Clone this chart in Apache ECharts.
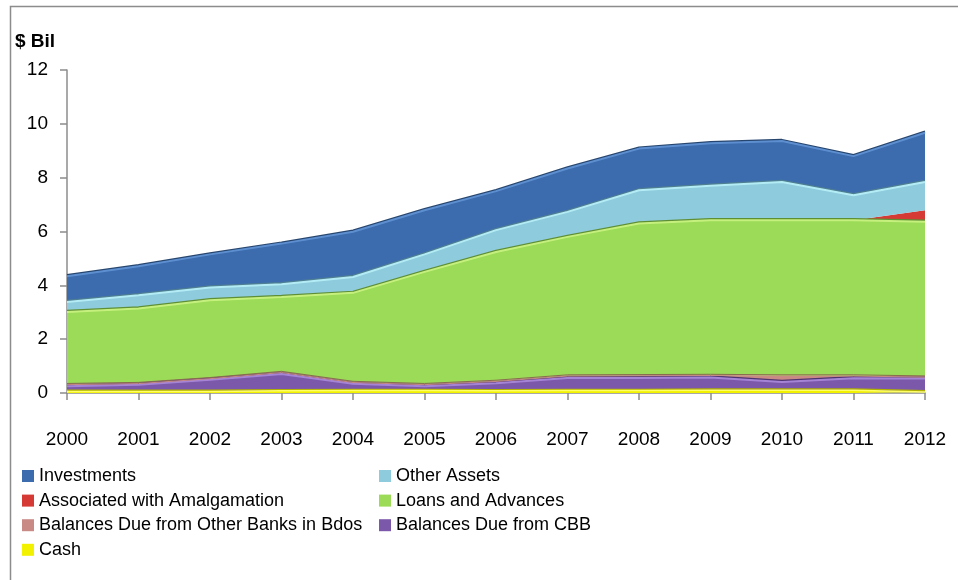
<!DOCTYPE html>
<html>
<head>
<meta charset="utf-8">
<script src="https://cdn.jsdelivr.net/npm/echarts@6/dist/echarts.min.js"></script>
<style>
  html, body { margin: 0; padding: 0; background: #ffffff; }
  #chart { width: 958px; height: 580px; }
</style>
</head>
<body>
<div id="chart"></div>
<script>
// Years along the category axis
const years = ['2000','2001','2002','2003','2004','2005','2006','2007','2008','2009','2010','2011','2012'];

// Asset components, $ billions (stacked bottom to top)
const cash          = [0.06, 0.06, 0.06, 0.08, 0.09, 0.09, 0.08, 0.09, 0.09, 0.10, 0.10, 0.10, 0.04];
const dueFromCBB    = [0.19, 0.25, 0.43, 0.63, 0.25, 0.16, 0.28, 0.47, 0.47, 0.48, 0.31, 0.45, 0.50];
const dueOtherBanks = [0.06, 0.04, 0.04, 0.05, 0.05, 0.06, 0.07, 0.07, 0.08, 0.07, 0.22, 0.08, 0.05];
const loans         = [2.70, 2.79, 2.92, 2.81, 3.33, 4.19, 4.81, 5.17, 5.66, 5.77, 5.79, 5.79, 5.77];
const amalgamation  = [0, 0, 0, 0, 0, 0, 0, 0, 0, 0, 0, 0, 0.43];
const otherAssets   = [0.37, 0.49, 0.47, 0.47, 0.59, 0.65, 0.81, 0.93, 1.23, 1.28, 1.42, 0.93, 1.05];
const investments   = [0.96, 1.08, 1.23, 1.51, 1.68, 1.64, 1.45, 1.61, 1.55, 1.58, 1.52, 1.45, 1.83];

// Y axis ticks
const yMin = 0, yMax = 12, yStep = 2;

const FONT = '"Liberation Sans", Arial, sans-serif';

function layer(name, data, fill, light, edge, lineWidth) {
  return {
    name: name,
    type: 'line',
    stack: 'assets',
    data: data,
    symbol: 'none',
    smooth: false,
    lineStyle: {
      width: lineWidth, color: light,
      shadowColor: edge, shadowBlur: 0, shadowOffsetY: -1.2
    },
    areaStyle: { color: fill, opacity: 1 },
    itemStyle: { color: fill },
    emphasis: { disabled: true }
  };
}

const chart = echarts.init(document.getElementById('chart'), null, { renderer: 'canvas' });

const legendText = { fontFamily: FONT, fontSize: 18, color: '#000', lineHeight: 20 };

chart.setOption({
  animation: false,
  backgroundColor: '#ffffff',
  grid: { left: 67, right: 33, top: 70, bottom: 187, containLabel: false },
  graphic: [
    {
      type: 'rect',
      left: 8, top: 4,
      shape: { width: 980, height: 620 },
      style: { fill: 'none', stroke: '#8c8c8c', lineWidth: 1.5 },
      silent: true
    },
    {
      type: 'text',
      left: 15, top: 32,
      style: { text: '$ Bil', font: 'bold 19px ' + FONT, fill: '#000' }
    }
  ],
  legend: [
    {
      orient: 'vertical',
      left: 17, top: 461,
      itemWidth: 12, itemHeight: 12, itemGap: 4.6,
      icon: 'rect',
      textStyle: legendText,
      data: ['Investments', 'Associated with Amalgamation', 'Balances Due from Other Banks in Bdos', 'Cash']
    },
    {
      orient: 'vertical',
      left: 374, top: 461,
      itemWidth: 12, itemHeight: 12, itemGap: 4.6,
      icon: 'rect',
      textStyle: legendText,
      data: ['Other Assets', 'Loans and Advances', 'Balances Due from CBB']
    }
  ],
  xAxis: {
    type: 'category',
    data: years,
    boundaryGap: false,
    axisLine: { show: true, lineStyle: { color: '#8c8c8c', width: 1.5 } },
    axisTick: { show: true, length: 7, lineStyle: { color: '#8c8c8c', width: 1.5 } },
    axisLabel: { margin: 37, fontFamily: FONT, fontSize: 19, color: '#000' },
    splitLine: { show: false }
  },
  yAxis: {
    type: 'value',
    min: yMin, max: yMax, interval: yStep,
    axisLine: { show: true, lineStyle: { color: '#8c8c8c', width: 1.5 } },
    axisTick: { show: true, length: 7, lineStyle: { color: '#8c8c8c', width: 1.5 } },
    axisLabel: { margin: 19, fontFamily: FONT, fontSize: 19, color: '#000' },
    splitLine: { show: false }
  },
  series: [
    layer('Cash', cash, '#f2f200', '#ffff66', '#b0b000', 1.5),
    layer('Balances Due from CBB', dueFromCBB, '#7b58aa', '#a584d6', '#4d3470', 2),
    layer('Balances Due from Other Banks in Bdos', dueOtherBanks, '#c98a86', '#c98a86', '#8a6a50', 1),
    layer('Loans and Advances', loans, '#9bdb57', '#c6f07e', '#5f8f35', 2),
    layer('Associated with Amalgamation', amalgamation, '#d63a34', '#d63a34', '#d63a34', 0),
    layer('Other Assets', otherAssets, '#8ecbdc', '#b4ecf5', '#4f7f92', 2),
    layer('Investments', investments, '#3c6cae', '#5d8fd0', '#27466f', 2)
  ]
});
</script>
</body>
</html>
